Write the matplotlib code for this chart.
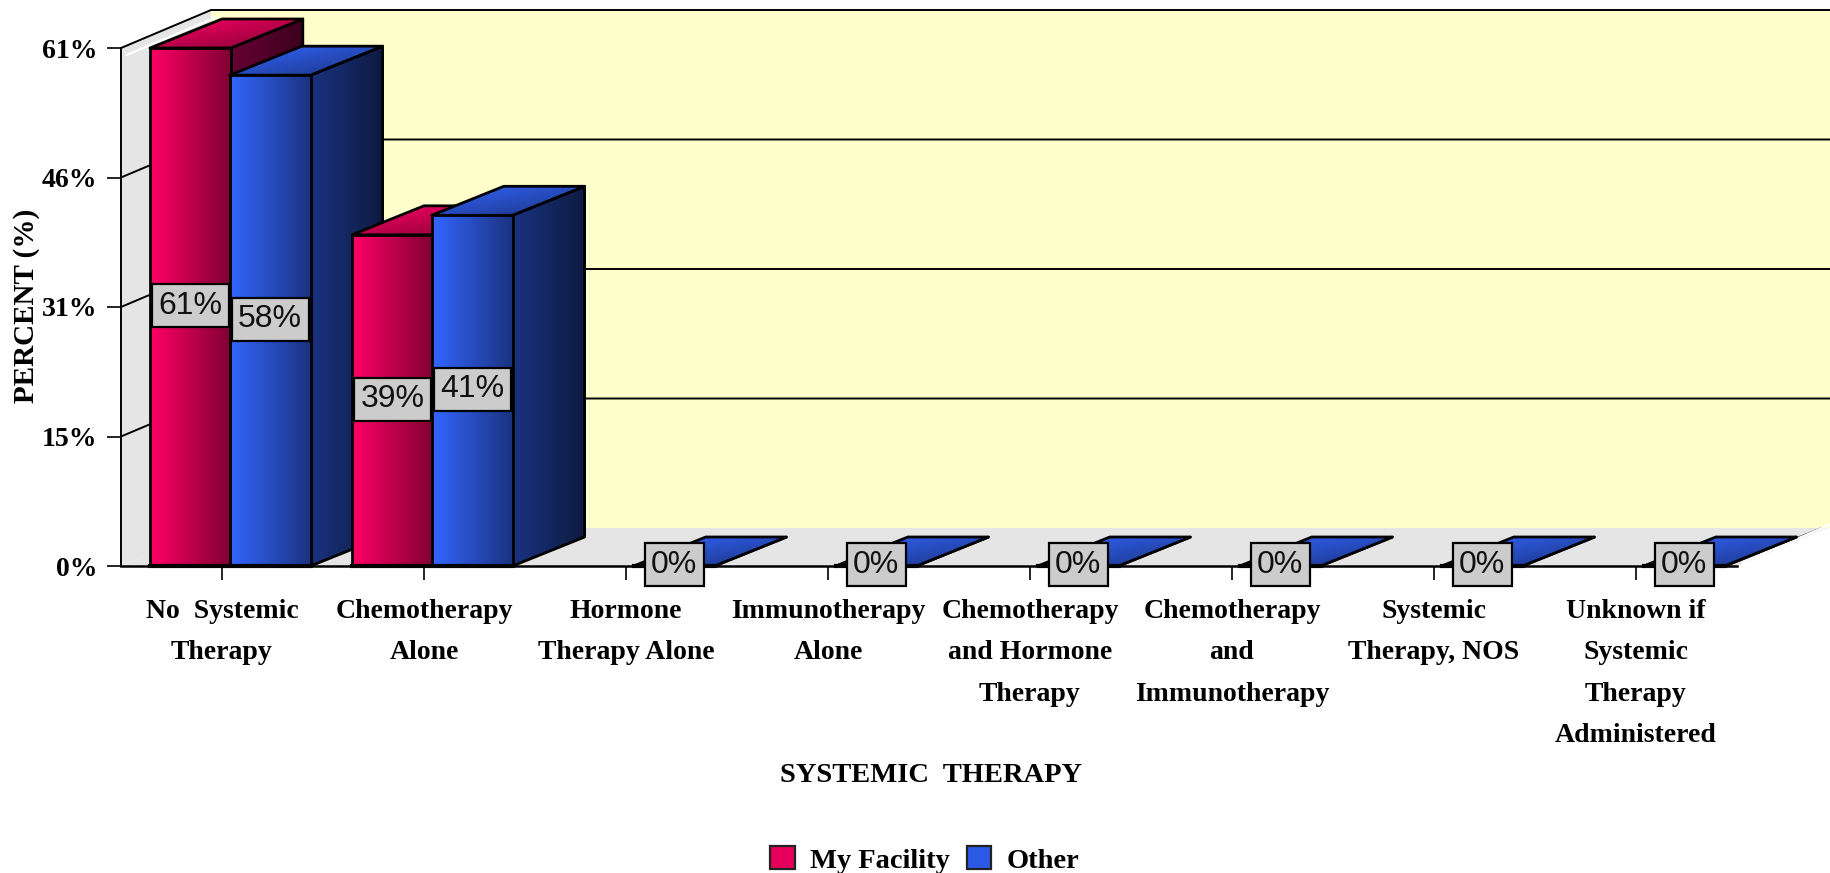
import numpy as np
from matplotlib import pyplot as plt
from matplotlib.colors import LinearSegmentedColormap
from matplotlib.patches import Patch, Polygon

categories = ['No  Systemic\nTherapy', 'Chemotherapy\nAlone', 'Hormone\nTherapy Alone',
              'Immunotherapy\nAlone', 'Chemotherapy\nand Hormone\nTherapy',
              'Chemotherapy\nand\nImmunotherapy', 'Systemic\nTherapy, NOS',
              'Unknown if\nSystemic\nTherapy\nAdministered']
my_facility = [61, 39, None, None, None, None, None, None]
other = [57.8, 41.3, 0, 0, 0, 0, 0, 0]
y_ticks = [0, 15.25, 30.5, 45.75, 61]
y_labels = ['0%', '15%', '31%', '46%', '61%']

RED = ('#ff0066', '#800033', '#660033', '#3d001f')
BLUE = ('#3366ff', '#1a3380', '#1a3380', '#0d1a40')

W, H = 1831, 873
FLOOR_Y = 566
PX_X = 202.0
PX_Y = 518 / 61.0
BAR_W = 0.4
DX, DY = 72 / PX_X, 29 / PX_Y
WALL_DX, WALL_DY = 90 / PX_X, 38 / PX_Y

fig = plt.figure(figsize=(W / 100, H / 100), dpi=100)
ax = fig.add_axes([121 / W, 1 - FLOOR_Y / H, (W - 121) / W, (FLOOR_Y - 5) / H])
xmax = (W - 121) / PX_X
ymax = (FLOOR_Y - 5) / PX_Y


def gradient(c0, c1, verts, extent, z, diagonal=False):
    cmap = LinearSegmentedColormap.from_list('g', [c0, c1])
    if diagonal:
        g = np.linspace(0, 1, 64)
        img = (g[None, :] + g[:, None]) / 2
    else:
        img = np.linspace(0, 1, 128)[None, :]
    im = ax.imshow(img, extent=extent, aspect='auto', cmap=cmap, vmin=0, vmax=1,
                   interpolation='bilinear', zorder=z)
    poly = Polygon(verts, closed=True, facecolor='none', edgecolor='black', linewidth=2.0,
                   joinstyle='round', zorder=z + 0.1, clip_on=False)
    ax.add_patch(poly)
    im.set_clip_path(poly)


def bar3d(x, h, cols, z):
    gradient(cols[2], cols[3], [(x + BAR_W, 0), (x + BAR_W + DX, DY), (x + BAR_W + DX, h + DY), (x + BAR_W, h)],
             [x + BAR_W, x + BAR_W + DX, 0, h + DY], z)
    gradient(cols[0], cols[1], [(x, h), (x + BAR_W, h), (x + BAR_W + DX, h + DY), (x + DX, h + DY)],
             [x, x + BAR_W + DX, h, h + DY], z + 0.2, diagonal=True)
    gradient(cols[0], cols[1], [(x, 0), (x + BAR_W, 0), (x + BAR_W, h), (x, h)],
             [x, x + BAR_W, 0, h], z + 0.4)


# walls and floor
ax.add_patch(Polygon([(WALL_DX, WALL_DY), (xmax, WALL_DY), (xmax, 61 + WALL_DY), (WALL_DX, 61 + WALL_DY)],
                     facecolor='#ffffcc', edgecolor='none', zorder=1))
ax.add_patch(Polygon([(0, 0), (WALL_DX, WALL_DY), (WALL_DX, 61 + WALL_DY), (0, 61)],
                     facecolor='#e5e5e5', edgecolor='none', zorder=1))
ax.add_patch(Polygon([(0, 0), (8, 0), (8 + WALL_DX, WALL_DY), (xmax, WALL_DY), (WALL_DX, WALL_DY)],
                     facecolor='#e5e5e5', edgecolor='none', zorder=1))
for t in y_ticks[1:]:
    ax.plot([0, WALL_DX, xmax], [t, t + WALL_DY, t + WALL_DY], color='black', lw=1.4, zorder=2)
ax.plot([0.03, WALL_DX + 0.03], [61 - 0.8, 61 + WALL_DY - 0.8], color='white', lw=1.6, zorder=2.5)
ax.plot([8 + 0.03, xmax], [0.45, WALL_DY + 0.45], color='white', lw=1.6, zorder=2.5)
ax.plot([7.95, xmax - 0.05], [0, WALL_DY], color='#555555', lw=1.0, zorder=2.4)

# bars
z = 3
for i in range(len(categories)):
    if my_facility[i] is not None:
        bar3d(i + 0.1436, my_facility[i], RED, z)
        z += 1
    bar3d(i + 0.5386, other[i], BLUE, z)
    z += 1
# heavy line under the bars
for i in range(len(categories)):
    left = i + 0.1436 if my_facility[i] is not None else i + 0.5386
    ax.plot([left, i + 0.5386 + BAR_W], [0, 0], color='black', lw=3.0, zorder=60, clip_on=False)

# value labels, above every bar
for i in range(len(categories)):
    for off, vals in ((0.3436, my_facility), (0.7386, other)):
        v = vals[i]
        if v is None:
            continue
        ax.text(i + off, v / 2 + 0.15, '%d%%' % round(v), ha='center', va='center', fontsize=23,
                family='Liberation Sans', color='#111111', zorder=100,
                bbox=dict(boxstyle='square,pad=0.2', facecolor='#cccccc', edgecolor='black', linewidth=1.6))

ax.set_xlim(0, xmax)
ax.set_ylim(0, ymax)
ax.set_xticks(np.arange(len(categories)) + 0.5)
ax.set_xticklabels(categories, family='Liberation Serif', fontweight='bold', fontsize=20,
                   linespacing=1.85, ha='center', va='top')
ax.set_yticks(y_ticks)
ax.set_yticklabels(y_labels, family='Liberation Serif', fontweight='bold', fontsize=20)
ax.tick_params(axis='x', length=10, width=1.2, pad=14)
ax.tick_params(axis='y', length=10, width=1.2, pad=7)
ax.patch.set_visible(False)
for s in ('top', 'right'):
    ax.spines[s].set_visible(False)
ax.spines['left'].set_bounds(0, 61)
ax.spines['bottom'].set_bounds(0, 8)
ax.spines['left'].set_linewidth(1.4)
ax.spines['bottom'].set_linewidth(1.8)
ax.spines['left'].set_zorder(2)
ax.spines['bottom'].set_zorder(50)

fig.text(27 / W, 1 - 306 / H, 'PERCENT (%)', rotation=90, ha='center', va='center',
         family='Liberation Serif', fontweight='bold', fontsize=21)
fig.text(931 / W, 1 - 776 / H, 'SYSTEMIC  THERAPY', ha='center', va='center',
         family='Liberation Serif', fontweight='bold', fontsize=20.5)

handles = [Patch(facecolor='#e6005c', edgecolor='#222222', linewidth=1.6, label='My Facility'),
           Patch(facecolor='#2a5ae6', edgecolor='#222222', linewidth=1.6, label='Other')]
fig.legend(handles=handles, loc='center', bbox_to_anchor=(925 / W, 1 - 860 / H), ncol=2, frameon=False,
           prop=dict(family='Liberation Serif', weight='bold', size=20.5),
           handlelength=0.85, handleheight=0.85, handletextpad=0.55, columnspacing=0.6,
           borderpad=0, borderaxespad=0)

fig.savefig('out.png', dpi=100)
